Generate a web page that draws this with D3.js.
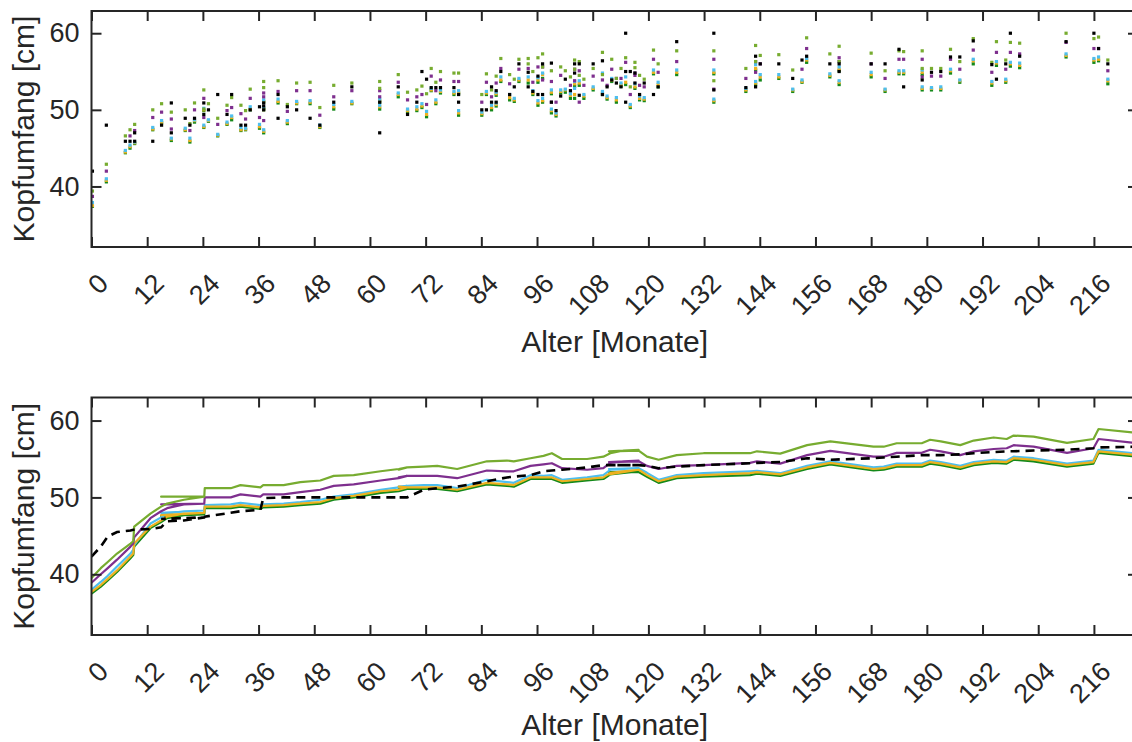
<!DOCTYPE html>
<html>
<head>
<meta charset="utf-8">
<script src="https://cdn.jsdelivr.net/npm/d3@7"></script>
<style>
  body { margin: 0; background: #fff; }
  svg { display: block; font-family: "Liberation Sans", Arial, sans-serif; }
</style>
</head>
<body>
<script>
// Axis ticks and labels
const xTickVals = [0, 12, 24, 36, 48, 60, 72, 84, 96, 108, 120, 132, 144, 156, 168, 180, 192, 204, 216];
const yTickVals = [40, 50, 60];
const xLabel = 'Alter [Monate]';
const yLabel = 'Kopfumfang [cm]';

// Top panel: one entry per visit (age in months), values per series (cm)
const scAge = [
  0.2, 3.2, 7.3, 8.3, 9.3, 9.3, 13.2, 15.1, 17.2, 17.2,
  20.2, 21.2, 22.2, 24.2, 24.2, 25.2, 27.2, 29.2, 30.2, 32.2,
  33.2, 34.2, 36.2, 37.1, 37.1, 37.1, 40.2, 40.2, 42.2, 44.2,
  47.1, 49.2, 52.2, 56.1, 62.1, 62.1, 66.1, 68.1, 70.1, 71.2,
  72.2, 73.2, 74.2, 75.2, 78.1, 79.1, 79.1, 84.1, 85.1, 86.2,
  86.2, 87.2, 87.2, 88.2, 90.1, 91.1, 92.1, 94.1, 94.1, 95.1,
  96.2, 96.2, 97.2, 97.2, 99.1, 99.1, 100.1, 101.1, 102.1, 103.2,
  104.1, 104.1, 105.1, 105.1, 106.1, 108.1, 110.1, 110.1, 111.1, 112.1,
  113.1, 114.1, 115.1, 115.1, 115.1, 116.1, 117.1, 117.1, 118.1, 119.1,
  121.1, 122.1, 126.1, 134.1, 134.1, 141.0, 143.1, 143.1, 144.1, 148.1,
  151.1, 153.1, 154.1, 159.1, 161.1, 161.1, 168.0, 171.0, 174.0, 175.0,
  179.0, 179.0, 181.0, 183.0, 185.1, 187.1, 190.0, 194.0, 195.0, 197.0,
  198.0, 200.0, 210.0, 216.0, 217.0, 219.0
];
const scLg = [
  39.4, 42.9, 46.6, 47.4, 48.1, null, 50.0, 50.8, 49.7, null,
  50.0, 48.2, 50.9, 52.6, 50.1, 50.8, 48.9, 50.6, 51.6, 50.6,
  49.9, 52.7, null, 53.7, 52.9, 50.0, 53.8, null, 50.7, 53.5,
  53.6, 50.3, 53.2, 53.5, 53.7, 52.8, 54.6, 52.3, 52.6, 53.1,
  52.1, 55.4, 53.6, 55.0, 54.8, 54.8, null, 52.0, 54.7, 52.6,
  null, 54.4, null, 56.7, 54.6, 54.0, 56.6, 56.7, 56.0, 55.0,
  56.8, null, 57.3, 55.6, 55.1, null, null, 55.6, 55.1, 54.3,
  56.5, 55.3, 56.3, 54.5, 54.0, 55.4, 57.5, 54.6, null, 56.6,
  54.1, 55.4, 56.8, null, null, 53.0, 56.2, 55.5, 54.5, 54.0,
  57.8, 56.0, 57.7, 57.7, 53.8, 55.4, 58.4, 56.3, 57.1, 57.2,
  55.2, null, 59.4, 57.3, 58.3, 56.3, 57.4, 55.1, 57.7, 57.6,
  57.7, 55.4, 55.4, 55.4, 57.9, 56.3, 59.3, 56.2, 58.9, 56.5,
  58.8, 58.7, 60.0, 59.3, 59.5, 56.5
];
const scPu = [
  38.7, 42.0, null, 46.6, 47.3, null, 49.0, 49.7, 48.8, 47.5,
  null, 47.3, 50.0, 51.5, 49.0, null, 48.1, 49.9, 50.3, 49.5,
  48.8, 51.5, 49.0, 52.2, 51.7, 48.6, 52.4, null, 49.8, 52.5,
  52.5, 49.3, 51.7, 52.5, 52.5, 51.7, 53.6, 51.3, 51.7, 52.0,
  50.7, 54.4, 52.5, 53.9, 53.7, 53.7, null, 51.0, 53.6, 51.7,
  null, 53.5, null, 55.4, 53.4, null, 55.3, 55.4, null, 53.6,
  55.6, null, 55.6, 53.9, 53.7, 51.0, 51.0, 54.5, null, 53.2,
  55.3, 53.8, 55.1, 51.0, 53.2, 54.4, null, 53.9, 53.2, 55.3,
  54.1, 54.1, 56.2, null, null, 52.0, 54.8, 54.5, 53.2, 53.0,
  56.6, 54.9, 56.3, 56.6, 52.7, 54.1, 56.3, 54.9, 56.0, null,
  null, 55.3, 58.0, null, 56.8, 56.3, 56.0, 54.1, 56.6, 56.6,
  56.6, 54.3, 54.4, 54.4, 56.6, 55.3, 57.8, 54.9, 57.5, 55.3,
  57.5, 57.3, 58.8, 58.0, 58.0, 55.1
];
const scCy = [
  37.9, 41.0, 44.7, 45.4, 45.8, null, 47.7, 48.6, null, 46.3,
  47.6, 46.3, 48.7, 50.2, 48.0, 48.7, 46.8, 48.4, 49.2, 47.7,
  47.6, 50.4, 48.1, 51.3, 50.3, 47.4, 51.4, null, 48.6, 51.1,
  51.2, 48.0, 50.7, 51.1, 51.4, 50.6, 52.2, 50.1, 50.4, 50.8,
  49.8, 52.8, 51.3, 52.6, 52.4, 52.5, 49.9, 49.7, 52.4, 50.6,
  null, 52.3, 50.9, 54.3, 52.0, 51.5, 54.1, 54.3, null, 52.5,
  54.2, 51.2, 54.8, 51.5, 52.6, 50.1, 49.6, 52.6, 52.7, 52.1,
  53.7, 52.8, 53.8, null, 52.0, 53.0, 54.8, 52.4, 51.8, 54.1,
  51.6, 53.5, 54.3, null, null, 50.7, 53.4, null, 51.8, 51.6,
  55.2, 53.6, 55.2, 55.2, 51.4, 52.8, 55.9, 53.7, 54.6, 54.6,
  52.7, 53.9, 56.7, 54.7, 55.6, 53.8, 54.9, 52.7, 55.1, 55.1,
  55.2, 53.0, 52.9, 53.0, 55.3, 53.9, 56.6, 53.7, 56.3, 54.0,
  56.2, 56.1, 57.3, 56.7, 56.9, 54.0
];
const scOr = [
  37.5, 40.8, 44.5, 45.2, 45.7, null, 47.5, 48.4, null, 46.2,
  47.4, 46.0, 48.6, 50.0, 47.8, 48.6, 46.7, 48.2, 49.0, 47.4,
  47.5, 50.1, 47.8, 51.1, 50.2, 47.2, 51.1, null, 48.4, 50.9,
  51.0, 47.8, 50.4, 50.9, 51.2, 50.4, 52.0, 49.9, 50.1, 50.5,
  49.4, 52.6, 51.0, 52.4, 52.2, 52.3, 49.6, 49.5, 52.2, 50.3,
  null, 52.1, 50.7, 53.9, 51.6, 51.3, 53.9, 53.9, null, 52.2,
  53.9, 50.9, 54.6, 51.2, 52.3, 49.9, 49.4, 52.4, 52.6, 51.9,
  53.4, 52.0, 53.5, null, 51.8, 52.8, null, 52.2, 51.6, 53.9,
  51.3, 53.3, 53.6, null, null, 50.5, 53.0, null, 51.5, 51.4,
  54.9, 53.3, 54.9, 54.9, 51.2, 52.6, 55.4, 53.5, 54.3, 54.3,
  52.6, 53.7, 56.5, 54.5, 55.3, 53.6, 54.6, 52.6, 54.9, 54.9,
  54.9, 52.8, 52.8, 52.8, 55.1, 53.8, 56.4, 53.5, 56.1, 53.8,
  56.0, 55.8, 57.1, 56.5, 56.6, 53.8
];
const scGr = [
  37.4, 40.6, 44.4, 45.0, 45.6, null, 47.4, 48.3, null, 46.0,
  47.3, 45.8, 48.4, 49.9, 47.7, 48.5, 46.6, 48.1, 48.7, 47.3,
  47.4, 50.0, 47.6, 51.0, 50.1, 47.0, 50.9, null, 48.2, 50.8,
  50.8, 47.7, 50.1, 50.8, 51.0, 50.1, 51.7, 49.7, 49.9, 50.3,
  49.1, 52.5, 50.8, 52.2, 52.0, 52.1, 49.3, 49.3, 52.0, 50.0,
  null, 51.9, 50.5, 53.7, 51.3, 51.1, 53.7, 53.5, null, 52.0,
  53.6, 50.6, 54.1, 51.0, 52.1, 49.6, 49.2, 52.2, 52.3, 51.5,
  53.1, 51.5, 53.2, null, 51.5, 52.6, null, 52.0, 51.4, 53.7,
  51.0, 53.1, 53.3, null, null, 50.3, 52.8, null, 51.3, 51.2,
  54.7, 53.0, 54.6, 54.7, 51.0, 52.4, 55.2, 53.3, 53.9, 54.1,
  52.4, 53.6, 56.2, 54.3, 55.1, 53.3, 54.3, 52.4, 54.7, 54.7,
  54.6, 52.6, 52.6, 52.6, 54.8, 53.6, 56.0, 53.2, 55.8, 53.6,
  55.7, 55.5, 56.9, 56.2, 56.4, 53.4
];
const scBk = [
  42.0, 48.0, 45.9, 45.9, 47.0, 45.9, 45.9, 48.0, 50.9, 47.0,
  48.9, 48.0, 48.9, 50.9, 49.4, 50.0, 52.0, 49.4, 52.0, 48.0,
  48.0, 50.0, 50.4, 50.9, 50.5, 50.0, 52.0, 48.9, 50.4, 50.0,
  48.9, 48.0, 51.0, 53.0, 51.0, 47.0, 53.0, 49.4, 51.0, 55.0,
  54.0, 52.9, 52.9, 52.9, 52.9, 52.0, 51.0, 50.0, 50.0, 53.0,
  51.0, 52.5, 51.0, 55.0, 52.0, 53.0, 56.0, 54.9, 53.0, 52.4,
  54.4, 52.0, 56.0, 52.0, 56.1, 51.0, 49.9, 51.8, 54.0, 52.5,
  56.0, 54.8, 56.0, 51.9, null, 56.0, 56.4, 52.0, 53.0, 53.9,
  53.5, 53.0, 60.0, 55.0, 51.0, 55.0, 53.5, 54.8, 52.0, 53.5,
  52.0, 53.0, 58.9, 60.0, 52.6, 52.9, 57.0, 53.0, 56.0, 56.0,
  54.1, 56.5, 57.0, 56.0, 56.0, 55.0, 56.0, 56.0, 57.9, 53.0,
  53.9, null, 54.9, 55.0, 56.9, 56.9, 59.0, 55.9, 54.0, 56.0,
  60.0, 57.0, 58.9, 60.0, 58.0, 56.0
];

// Bottom panel: curve vertices in drawing order (ages in months)
const lnAge = [
  0, 2, 3.5, 5.5, 8.4, 9.0, 9.2, 12.7, 15.0, 16.3,
  19.9, 24.3, 15.0, 24.3, 24.4, 30.0, 32.1, 36.4, 37.0, 41.4,
  45.0, 49.3, 52.2, 56.5, 62.3, 66.2, 68.0, 66.2, 68.0, 71.6,
  74.5, 78.8, 85.2, 89.5, 91.0, 94.6, 97.4, 99.2, 101.4, 106.8,
  110.3, 111.8, 114.7, 117.9, 111.5, 117.9, 119.7, 122.2, 126.1, 131.9,
  141.9, 143.4, 148.4, 154.2, 159.2, 168.5, 170.7, 173.5, 178.9, 180.7,
  183.0, 187.2, 190.1, 194.4, 197.2, 198.7, 203.0, 210.2, 215.9, 217.0,
  225.5
];
const lnLg = [
  39.5, 40.8, 41.6, 42.7, 44.0, 44.3, 46.2, 47.9, 48.8, 49.2,
  49.7, 50.1, 50.1, 50.1, 51.2, 51.2, 51.6, 51.3, 51.6, 51.6,
  52.0, 52.2, 52.8, 52.9, 53.4, 53.7, 53.9, 53.6, 53.9, 54.0,
  54.1, 53.7, 54.7, 54.8, 54.7, 55.1, 55.4, 55.75, 55.0, 55.0,
  55.3, 55.75, 56.1, 56.2, 56.0, 56.1, 55.3, 54.9, 55.5, 55.75,
  55.75, 56.0, 55.7, 56.8, 57.3, 56.6, 56.6, 57.05, 57.05, 57.5,
  57.3, 56.8, 57.4, 57.8, 57.6, 58.05, 57.9, 57.1, 57.6, 58.9,
  58.4
];
const lnPu = [
  38.9, 40.0, 40.8, 41.9, 43.6, 44.0, 44.8, 47.3, 48.2, 48.6,
  49.1, 49.2, 49.1, 49.2, 50.0, 50.0, 50.4, 50.1, 50.4, 50.4,
  50.7, 51.0, 51.5, 51.7, 52.2, 52.5, 52.8, 52.6, 52.8, 52.8,
  52.8, 52.5, 53.5, 53.4, 53.4, 54.1, 54.3, 54.45, 53.8, 53.6,
  53.8, 54.5, 54.7, 54.8, 54.6, 54.7, 54.1, 53.7, 54.1, 54.2,
  54.5, 54.7, 54.4, 55.5, 56.05, 55.3, 55.3, 55.8, 55.8, 56.2,
  56.0, 55.5, 56.0, 56.3, 56.4, 56.8, 56.6, 55.8, 56.4, 57.6,
  57.05
];
const lnCy = [
  38.0, 39.0, 39.8, 41.0, 42.7, 43.2, 43.8, 46.6, 47.4, 47.9,
  48.2, 48.3, 48.0, 48.3, 49.0, 49.1, 49.3, 49.0, 49.1, 49.2,
  49.4, 49.7, 50.1, 50.4, 51.0, 51.3, 51.5, 51.4, 51.5, 51.6,
  51.6, 51.2, 52.3, 52.0, 51.9, 52.9, 52.8, 52.9, 52.3, 52.6,
  52.9, 53.6, 53.7, 53.8, 53.7, 53.8, 53.2, 52.3, 52.9, 53.15,
  53.4, 53.45, 53.15, 54.1, 54.7, 53.9, 54.0, 54.4, 54.4, 54.8,
  54.6, 54.1, 54.6, 54.9, 54.8, 55.3, 55.1, 54.4, 54.8, 56.2,
  55.7
];
const lnOr = [
  37.7, 38.6, 39.4, 40.5, 42.3, 42.7, 44.0, 46.2, 47.0, 47.5,
  47.9, 48.0, 47.7, 48.0, 48.8, 48.8, 49.0, 48.7, 48.9, 49.0,
  49.2, 49.4, 49.9, 50.2, 50.8, 51.0, 51.3, 51.4, 51.3, 51.3,
  51.3, 51.0, 51.9, 51.7, 51.6, 52.6, 52.6, 52.6, 52.1, 52.4,
  52.6, 53.2, 53.4, 53.6, 53.0, 53.6, 52.9, 52.1, 52.7, 52.9,
  53.15, 53.3, 53.0, 53.9, 54.5, 53.7, 53.8, 54.2, 54.2, 54.6,
  54.4, 53.9, 54.4, 54.7, 54.6, 55.1, 54.9, 54.2, 54.6, 56.0,
  55.5
];
const lnGr = [
  37.5, 38.4, 39.2, 40.3, 42.1, 42.5, 43.6, 46.0, 46.8, 47.3,
  47.7, 47.8, 47.6, 47.8, 48.6, 48.6, 48.8, 48.5, 48.7, 48.8,
  49.0, 49.2, 49.7, 50.0, 50.6, 50.8, 51.1, 51.2, 51.1, 51.1,
  51.1, 50.8, 51.7, 51.5, 51.4, 52.4, 52.4, 52.4, 51.9, 52.2,
  52.4, 53.0, 53.2, 53.4, 53.3, 53.3, 52.7, 51.9, 52.5, 52.7,
  52.9, 53.1, 52.8, 53.7, 54.3, 53.5, 53.6, 54.0, 54.0, 54.4,
  54.2, 53.7, 54.2, 54.5, 54.4, 54.9, 54.7, 54.0, 54.4, 55.8,
  55.3
];
const lnBk = [
  42.3, 43.6, 44.9, 45.5, 45.7, 45.8, 45.8, 45.9, 46.1, 46.9,
  47.0, 47.4, 47.2, 47.4, 47.5, 48.0, 48.2, 48.4, 49.9, 50.0,
  50.0, 50.0, 50.0, 50.0, 50.0, 50.0, 50.0, 50.0, 50.0, 51.0,
  51.2, 51.4, 52.1, 52.6, 52.7, 52.9, 53.4, 53.5, 53.6, 53.9,
  54.2, 54.2, 54.2, 54.2, 54.2, 54.2, 54.1, 53.8, 54.0, 54.2,
  54.45, 54.5, 54.6, 55.1, 54.9, 55.1, 55.2, 55.3, 55.5, 55.5,
  55.5, 55.6, 55.75, 55.9, 56.0, 56.0, 56.1, 56.2, 56.4, 56.5,
  56.6
];

const ink = '#262626';
const colors = { gr: '#14891a', or: '#EDB120', cy: '#4DBEEE', pu: '#7E2F8E', lg: '#77AC30', bk: '#000000' };

const width = 1132, height = 742;
const svg = d3.select('body').append('svg')
    .attr('width', width)
    .attr('height', height);

const x = d3.scaleLinear().domain([0, 225.5]).range([91.5, 1138]);
const yTop = d3.scaleLinear().domain([32.1, 62.9]).range([247, 11]);
const yBot = d3.scaleLinear().domain([32.1, 63.0]).range([635, 397.5]);

// Draw box, inward ticks and labels for one panel
function drawAxes(y, labelY) {
    const [x0, x1] = x.range();
    const [yb, yt] = y.range();
    const g = svg.append('g');

    const gb = g.append('g').attr('transform', `translate(0,${yb})`)
        .call(d3.axisBottom(x).tickValues(xTickVals).tickSize(-10).tickSizeOuter(0));
    gb.selectAll('text')
        .attr('x', 18).attr('y', 38).attr('dy', 0)
        .attr('text-anchor', 'end')
        .attr('transform', 'rotate(-45,18,38)');

    const gt = g.append('g').attr('transform', `translate(0,${yt})`)
        .call(d3.axisTop(x).tickValues(xTickVals).tickSize(-10).tickFormat(''));

    const gl = g.append('g').attr('transform', `translate(${x0},0)`)
        .call(d3.axisLeft(y).tickValues(yTickVals).tickSize(-10).tickPadding(12));

    const gr = g.append('g').attr('transform', `translate(${x1},0)`)
        .call(d3.axisRight(y).tickValues(yTickVals).tickSize(-10).tickFormat(''));

    [gb, gt, gl, gr].forEach(a => {
        a.attr('font-size', null).attr('font-family', null);
        a.select('.domain').remove();
        a.selectAll('line').attr('stroke', ink).attr('stroke-width', 2);
        a.selectAll('text').attr('fill', ink).style('font-size', '27px');
    });

    g.append('rect')
        .attr('x', x0).attr('y', yt)
        .attr('width', x1 - x0).attr('height', yb - yt)
        .attr('fill', 'none').attr('stroke', ink).attr('stroke-width', 2);

    g.append('text')
        .attr('x', (x0 + x1) / 2).attr('y', labelY)
        .attr('text-anchor', 'middle')
        .attr('fill', ink).style('font-size', '30px')
        .text(xLabel);

    g.append('text')
        .attr('transform', `translate(34,${(yb + yt) / 2}) rotate(-90)`)
        .attr('text-anchor', 'middle')
        .attr('fill', ink).style('font-size', '30px')
        .text(yLabel);
}

// clip regions
const defs = svg.append('defs');
[['clipTop', yTop], ['clipBot', yBot]].forEach(([id, y]) => {
    defs.append('clipPath').attr('id', id).append('rect')
        .attr('x', x.range()[0]).attr('y', y.range()[1])
        .attr('width', x.range()[1] - x.range()[0])
        .attr('height', y.range()[0] - y.range()[1]);
});

// Top panel: scatter of small square markers
const scSeries = [
    ['gr', scGr], ['or', scOr], ['cy', scCy], ['pu', scPu], ['lg', scLg], ['bk', scBk]
];
const topMarks = svg.append('g').attr('clip-path', 'url(#clipTop)');
scSeries.forEach(([key, vals]) => {
    const pts = scAge.map((a, i) => [a, vals[i]]).filter(d => d[1] != null);
    topMarks.append('g').selectAll('rect')
        .data(pts)
        .join('rect')
        .attr('x', d => x(d[0]) - 1.6)
        .attr('y', d => yTop(d[1]) - 1.6)
        .attr('width', 3.2)
        .attr('height', 3.2)
        .attr('fill', colors[key]);
});

// Bottom panel: curves
const lnSeries = [
    ['gr', lnGr], ['cy', lnCy], ['or', lnOr], ['pu', lnPu], ['lg', lnLg]
];
const botMarks = svg.append('g').attr('clip-path', 'url(#clipBot)');
lnSeries.forEach(([key, vals]) => {
    const line = d3.line()
        .x(i => x(lnAge[i]))
        .y(i => yBot(vals[i]));
    botMarks.append('path')
        .attr('d', line(d3.range(lnAge.length)))
        .attr('fill', 'none')
        .attr('stroke', colors[key])
        .attr('stroke-width', 2.2)
        .attr('stroke-linejoin', 'round');
});
botMarks.append('path')
    .attr('d', d3.line().x(i => x(lnAge[i])).y(i => yBot(lnBk[i]))(d3.range(lnAge.length)))
    .attr('fill', 'none')
    .attr('stroke', colors.bk)
    .attr('stroke-width', 2.6)
    .attr('stroke-dasharray', '9,6');

drawAxes(yTop, 352);
drawAxes(yBot, 735);
</script>
</body>
</html>
